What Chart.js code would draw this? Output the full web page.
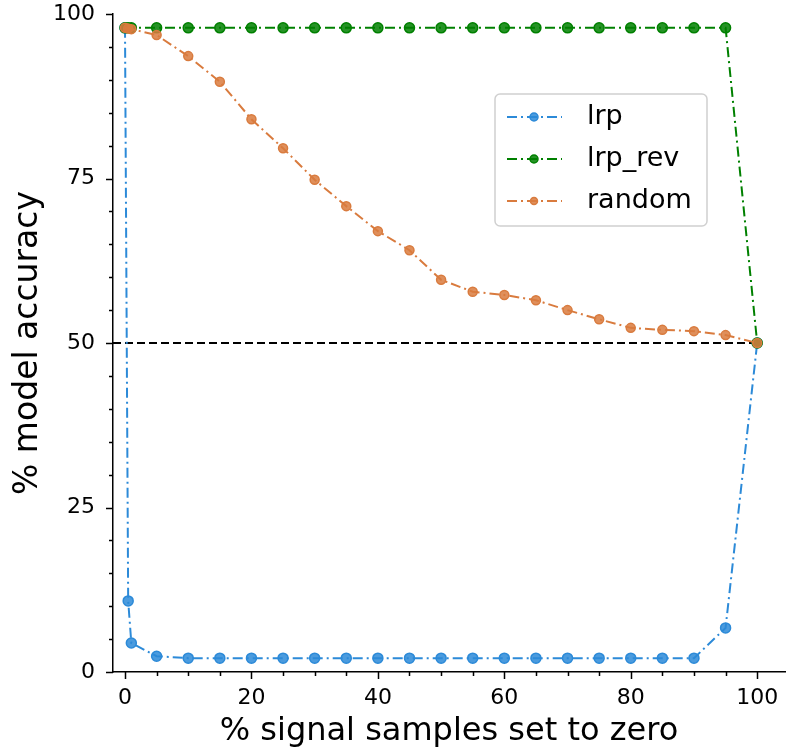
<!DOCTYPE html>
<html>
<head>
<meta charset="utf-8">
<script src="https://cdn.jsdelivr.net/npm/chart.js@4.4.1/dist/chart.umd.min.js"></script>
<style>
  html, body { margin: 0; padding: 0; background: #fff; }
  #wrap { width: 787px; height: 751px; }
</style>
</head>
<body>
<div id="wrap"><canvas id="chart" width="787" height="751"></canvas></div>
<script>
// Percentage of signal samples set to zero
const xValues = [0, 0.5, 1, 5, 10, 15, 20, 25, 30, 35, 40, 45, 50, 55, 60, 65, 70, 75, 80, 85, 90, 95, 100];

// Model accuracy for each series
const lrpValues = [97.9, 10.8, 4.4, 2.4, 2.1, 2.1, 2.1, 2.1, 2.1, 2.1, 2.1, 2.1, 2.1, 2.1, 2.1, 2.1, 2.1, 2.1, 2.1, 2.1, 2.1, 6.7, 50];
const lrpRevValues = [97.9, 97.9, 97.9, 97.9, 97.9, 97.9, 97.9, 97.9, 97.9, 97.9, 97.9, 97.9, 97.9, 97.9, 97.9, 97.9, 97.9, 97.9, 97.9, 97.9, 97.9, 97.9, 50];
const randomValues = [97.9, 97.8, 97.7, 96.8, 93.6, 89.7, 84.0, 79.6, 74.8, 70.8, 67.0, 64.1, 59.6, 57.8, 57.3, 56.5, 55.0, 53.6, 52.3, 52.0, 51.8, 51.2, 50];

// Chance level reference line
const chanceX = [-1.9, 100];
const chanceY = [50, 50];

// Tick labels
const xTickValues = [0, 20, 40, 60, 80, 100];
const yTickValues = [0, 25, 50, 75, 100];
const xMinorStep = 5;
const yMinorStep = 5;

const FONT = "'DejaVu Sans', sans-serif";
const BLUE = 'rgb(44, 138, 216)';
const GREEN = 'rgb(0, 128, 0)';
const ORANGE = 'rgb(217, 123, 62)';
const DASHDOT = [10, 4, 2, 4];

function toPoints(xs, ys) {
    return xs.map((x, i) => ({ x: x, y: ys[i] }));
}

// Draws the major and minor tick marks outside the axes (matplotlib style)
const tickMarks = {
    id: 'tickMarks',
    afterDraw(chart) {
        const ctx = chart.ctx;
        const xs = chart.scales.x;
        const ys = chart.scales.y;
        const area = chart.chartArea;
        ctx.save();
        ctx.strokeStyle = '#000';
        ctx.lineWidth = 1.5;
        ctx.beginPath();
        for (let v = 0; v <= 100; v += xMinorStep) {
            const px = Math.round(xs.getPixelForValue(v)) + 0.5;
            const len = xTickValues.includes(v) ? 7 : 4;
            ctx.moveTo(px, area.bottom);
            ctx.lineTo(px, area.bottom + len);
        }
        for (let v = 0; v <= 100; v += yMinorStep) {
            const py = Math.round(ys.getPixelForValue(v)) + 0.5;
            const len = yTickValues.includes(v) ? 7 : 4;
            ctx.moveTo(area.left, py);
            ctx.lineTo(area.left - len, py);
        }
        ctx.stroke();
        ctx.restore();
    }
};

// Legend box drawn inside the plot area
const insideLegend = {
    id: 'insideLegend',
    afterDraw(chart) {
        const ctx = chart.ctx;
        const box = { x: 495, y: 94, w: 212, h: 132 };
        ctx.save();
        ctx.fillStyle = 'rgba(255,255,255,0.85)';
        ctx.strokeStyle = '#d0d0d0';
        ctx.lineWidth = 1.5;
        ctx.beginPath();
        ctx.roundRect(box.x, box.y, box.w, box.h, 5);
        ctx.fill();
        ctx.stroke();

        const entries = chart.data.datasets.filter(d => d.inLegend);
        entries.forEach((ds, i) => {
            const cy = 117 + i * 42;
            ctx.strokeStyle = ds.borderColor;
            ctx.lineWidth = 2;
            ctx.setLineDash(DASHDOT);
            ctx.beginPath();
            ctx.moveTo(507, cy);
            ctx.lineTo(562, cy);
            ctx.stroke();
            ctx.setLineDash([]);
            ctx.fillStyle = ds.pointBackgroundColor;
            ctx.beginPath();
            ctx.arc(534, cy, ds.pointRadius - 1, 0, Math.PI * 2);
            ctx.fill();
            ctx.lineWidth = 1.5;
            ctx.stroke();
            ctx.fillStyle = '#000';
            ctx.font = '27px ' + FONT;
            ctx.textBaseline = 'middle';
            ctx.textAlign = 'left';
            ctx.fillText(ds.label, 587, cy);
        });
        ctx.restore();
    }
};

const config = {
    type: 'scatter',
    data: {
        datasets: [{
            label: 'lrp',
            inLegend: true,
            data: toPoints(xValues, lrpValues),
            showLine: true,
            borderColor: BLUE,
            backgroundColor: BLUE,
            pointBackgroundColor: 'rgba(44, 138, 216, 0.85)',
            pointBorderColor: BLUE,
            borderWidth: 2,
            borderDash: DASHDOT,
            pointRadius: 5,
            pointBorderWidth: 1.5,
            order: 3
        }, {
            label: 'lrp_rev',
            inLegend: true,
            data: toPoints(xValues, lrpRevValues),
            showLine: true,
            borderColor: GREEN,
            backgroundColor: GREEN,
            pointBackgroundColor: 'rgba(0, 128, 0, 0.85)',
            pointBorderColor: GREEN,
            borderWidth: 2,
            borderDash: DASHDOT,
            pointRadius: 5,
            pointBorderWidth: 1.5,
            order: 2
        }, {
            label: 'random',
            inLegend: true,
            data: toPoints(xValues, randomValues),
            showLine: true,
            borderColor: ORANGE,
            backgroundColor: ORANGE,
            pointBackgroundColor: 'rgba(217, 123, 62, 0.85)',
            pointBorderColor: ORANGE,
            borderWidth: 2,
            borderDash: DASHDOT,
            pointRadius: 4.5,
            pointBorderWidth: 1.5,
            order: 1
        }, {
            label: 'chance',
            inLegend: false,
            data: toPoints(chanceX, chanceY),
            showLine: true,
            borderColor: '#000',
            borderWidth: 2,
            borderDash: [8, 4],
            pointRadius: 0,
            order: 4
        }]
    },
    options: {
        responsive: false,
        animation: false,
        layout: {
            autoPadding: false,
            padding: { top: 14, right: 2, left: 0, bottom: 0 }
        },
        plugins: {
            legend: { display: false },
            tooltip: { enabled: false }
        },
        scales: {
            x: {
                type: 'linear',
                min: -1.9,
                max: 104.4,
                afterBuildTicks(scale) {
                    scale.ticks = xTickValues.map(v => ({ value: v }));
                },
                afterFit(scale) {
                    scale.height = 79;
                    scale.paddingLeft = 0;
                    scale.paddingRight = 0;
                },
                grid: { display: false, drawTicks: false },
                border: { display: true, color: '#000', width: 1.5 },
                ticks: {
                    color: '#000',
                    padding: 13,
                    maxRotation: 0,
                    autoSkip: false,
                    font: { family: FONT, size: 22 }
                },
                title: {
                    display: true,
                    text: '% signal samples set to zero',
                    color: '#000',
                    font: { family: FONT, size: 32 },
                    padding: { top: 0, bottom: 0 }
                }
            },
            y: {
                type: 'linear',
                min: 0,
                max: 100,
                afterBuildTicks(scale) {
                    scale.ticks = yTickValues.map(v => ({ value: v }));
                },
                afterFit(scale) {
                    scale.width = 113;
                    scale.paddingTop = 0;
                    scale.paddingBottom = 0;
                },
                grid: { display: false, drawTicks: false },
                border: { display: true, color: '#000', width: 1.5 },
                ticks: {
                    color: '#000',
                    padding: 18,
                    autoSkip: false,
                    font: { family: FONT, size: 22 }
                },
                title: {
                    display: true,
                    text: '% model accuracy',
                    color: '#000',
                    font: { family: FONT, size: 33 },
                    padding: { top: 9, bottom: 0 }
                }
            }
        }
    },
    plugins: [tickMarks, insideLegend]
};

new Chart(document.getElementById('chart'), config);
</script>
</body>
</html>
